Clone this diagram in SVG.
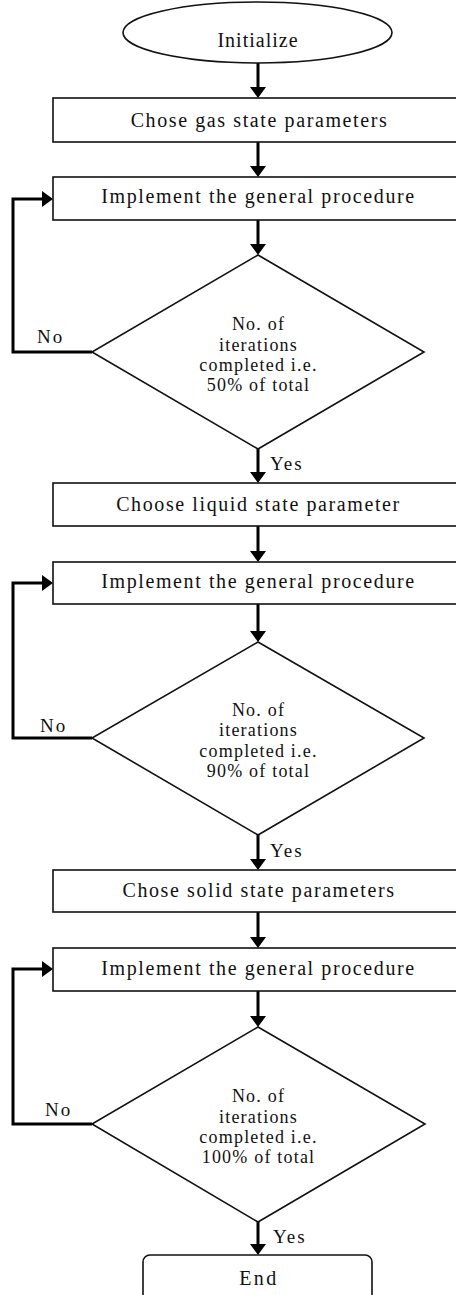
<svg xmlns="http://www.w3.org/2000/svg" width="456" height="1295" viewBox="0 0 456 1295">
<style>
.shape{fill:#fff;stroke:#111;stroke-width:1.6}
.conn{fill:none;stroke:#000;stroke-width:3}
text{font-family:'Liberation Serif','Times New Roman',serif;fill:#111}
.bt{font-size:20px;text-anchor:middle;letter-spacing:1.6px}
.dt{font-size:18px;text-anchor:middle;letter-spacing:1.2px}
.lb{font-size:19px;text-anchor:start;letter-spacing:2px}
</style>
<defs>
<marker id="ah" viewBox="0 0 11 16" refX="3" refY="8" markerWidth="11" markerHeight="16" markerUnits="userSpaceOnUse" orient="auto">
<path d="M0,0 L11,8 L0,16 z" fill="#000"/>
</marker>
</defs>
<rect width="456" height="1295" fill="#fff"/>
<g id="connectors">
<line class="conn" x1="258" y1="63" x2="258" y2="90" marker-end="url(#ah)"/>
<line class="conn" x1="258" y1="142" x2="258" y2="169" marker-end="url(#ah)"/>
<line class="conn" x1="258" y1="220" x2="258" y2="247" marker-end="url(#ah)"/>
<path class="conn" d="M92,352 H13 V199 H45" marker-end="url(#ah)"/>
<line class="conn" x1="258" y1="449" x2="258" y2="475" marker-end="url(#ah)"/>
<line class="conn" x1="258" y1="526" x2="258" y2="554" marker-end="url(#ah)"/>
<line class="conn" x1="258" y1="604" x2="258" y2="634" marker-end="url(#ah)"/>
<path class="conn" d="M92,738 H13 V583 H45" marker-end="url(#ah)"/>
<line class="conn" x1="258" y1="835" x2="258" y2="862" marker-end="url(#ah)"/>
<line class="conn" x1="258" y1="912" x2="258" y2="940" marker-end="url(#ah)"/>
<line class="conn" x1="258" y1="991" x2="258" y2="1019" marker-end="url(#ah)"/>
<path class="conn" d="M92,1124 H13 V969 H45" marker-end="url(#ah)"/>
<line class="conn" x1="258" y1="1222" x2="258" y2="1247" marker-end="url(#ah)"/>
<text class="lb" x="37" y="343">No</text>
<text class="lb" x="40" y="732">No</text>
<text class="lb" x="45" y="1116">No</text>
<text class="lb" x="270" y="470">Yes</text>
<text class="lb" x="270" y="857">Yes</text>
<text class="lb" x="273" y="1243">Yes</text>
</g>
<g id="start">
<ellipse class="shape" cx="257.5" cy="32.5" rx="134.5" ry="30.5"/>
<text class="bt" x="258" y="47" style="letter-spacing:1px">Initialize</text>
</g>
<g id="gas">
<rect class="shape" x="53" y="98" width="410" height="44"/>
<text class="bt" x="259.5" y="127">Chose gas state parameters</text>
</g>
<g id="proc1">
<rect class="shape" x="53" y="177" width="410" height="43"/>
<text class="bt" x="258.5" y="203">Implement the general procedure</text>
</g>
<g id="dec1">
<polygon class="shape" points="258,255 424,352 258,449 92,352"/>
<text class="dt" x="258.5" y="330">No. of</text>
<text class="dt" x="258.5" y="351">iterations</text>
<text class="dt" x="258.5" y="371">completed i.e.</text>
<text class="dt" x="258.5" y="391">50% of total</text>
</g>
<g id="liquid">
<rect class="shape" x="53" y="483" width="410" height="43"/>
<text class="bt" x="258.5" y="511">Choose liquid state parameter</text>
</g>
<g id="proc2">
<rect class="shape" x="53" y="562" width="410" height="42"/>
<text class="bt" x="258.5" y="588">Implement the general procedure</text>
</g>
<g id="dec2">
<polygon class="shape" points="258,642 424,738 258,835 92,738"/>
<text class="dt" x="258.5" y="716">No. of</text>
<text class="dt" x="258.5" y="736">iterations</text>
<text class="dt" x="258.5" y="757">completed i.e.</text>
<text class="dt" x="258.5" y="777">90% of total</text>
</g>
<g id="solid">
<rect class="shape" x="53" y="870" width="410" height="42"/>
<text class="bt" x="259" y="897">Chose solid state parameters</text>
</g>
<g id="proc3">
<rect class="shape" x="53" y="948" width="410" height="43"/>
<text class="bt" x="258.5" y="975">Implement the general procedure</text>
</g>
<g id="dec3">
<polygon class="shape" points="258,1027 425,1124 258,1222 92,1124"/>
<text class="dt" x="258.5" y="1102">No. of</text>
<text class="dt" x="258.5" y="1123">iterations</text>
<text class="dt" x="258.5" y="1143">completed i.e.</text>
<text class="dt" x="258.5" y="1163">100% of total</text>
</g>
<g id="end">
<rect class="shape" x="143" y="1255" width="229" height="60" rx="7" ry="7"/>
<text class="bt" x="259" y="1285" style="letter-spacing:2.5px">End</text>
</g>
</svg>
